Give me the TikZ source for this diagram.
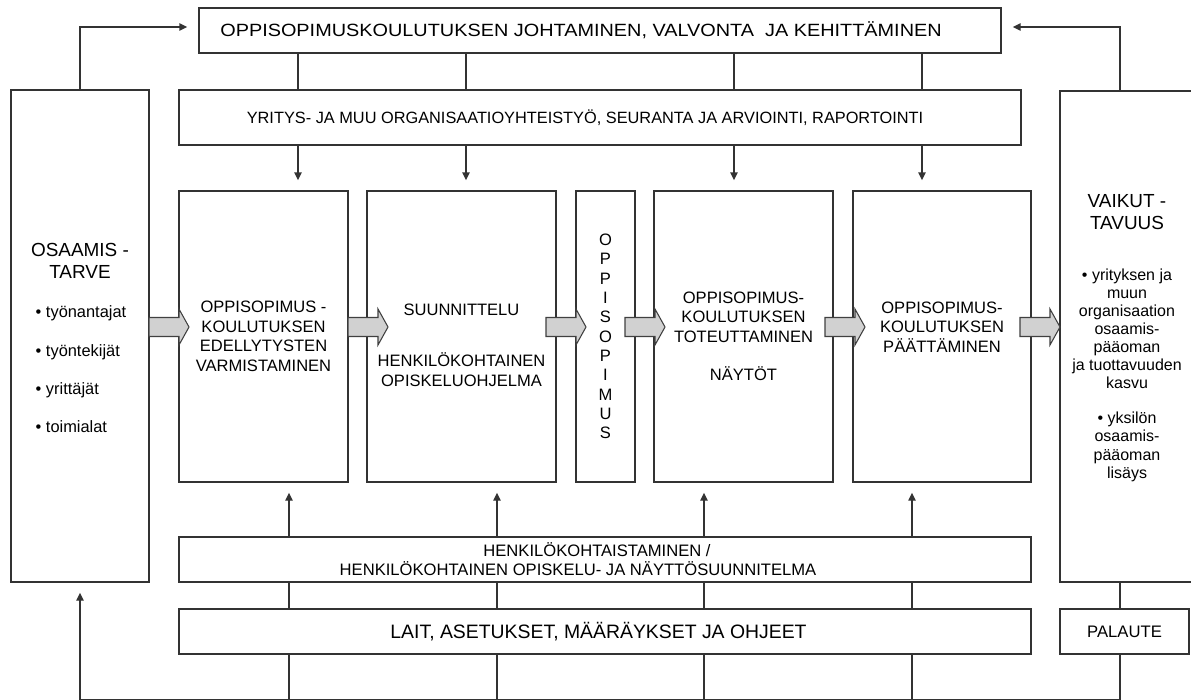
\documentclass[tikz,border=0pt]{standalone}
\usepackage{fontspec}
\setmainfont{Liberation Sans}
\newfontfamily\levea[FakeStretch=1.12]{Liberation Sans}
\usetikzlibrary{arrows.meta}

\tikzset{
  laatikko/.style={draw=black!80, line width=1.1pt, inner sep=0pt, align=center},
  koko/.style 2 args={minimum width=#1*0.75pt, minimum height=#2*0.75pt},
  viiva/.style={black!80, line width=1.1pt},
  nuoli/.style={viiva, -{Triangle[length=6pt,width=5.5pt]}, shorten >=7.5pt},
  lohko/.style={fill=black!18, draw=black!75, line width=0.8pt},
  vaiheteksti/.style={font=\fontsize{12.4}{14.6}\selectfont},
  otsikko/.style={align=center, font=\fontsize{14.2}{16.5}\selectfont},
}
% harmaa lohkonuoli, alkaa pisteesta #1
\newcommand{\lohkonuoli}[1]{\draw[lohko] #1 ++(0,-9.5) -- ++(30,0) -- ++(0,-8.5) -- ++(10,18) -- ++(-10,18) -- ++(0,-8.5) -- ++(-30,0) -- cycle;}

\begin{document}
\begin{tikzpicture}[x=0.75pt,y=-0.75pt]
\useasboundingbox (0,0) rectangle (1191,699);

% ylimmat laatikot
\node[laatikko, koko={802}{45}, font=\levea\fontsize{13.3}{15.5}\selectfont] (johto) at (600,30.5)
  {OPPISOPIMUSKOULUTUKSEN JOHTAMINEN, VALVONTA\ \ JA KEHITTÄMINEN\kern28.5pt};
\node[laatikko, koko={842}{55}, font=\fontsize{12.25}{14.6}\selectfont] (yhteis) at (600,117.5)
  {YRITYS- JA MUU ORGANISAATIOYHTEISTYÖ, SEURANTA JA ARVIOINTI, RAPORTOINTI\kern22.5pt};

% sivulaatikot
\node[laatikko, koko={138}{492}] (osaamis) at (80,336) {};
\node[laatikko, koko={134}{491}] (vaikut) at (1127,336.5) {};
\node[otsikko] (osaamisotsikko) at (80,261) {OSAAMIS -\\TARVE};
\node[anchor=west, align=left, font=\fontsize{12.3}{28.7}\selectfont] (osaamislista) at (31,369.5)
  {• työnantajat\\• työntekijät\\• yrittäjät\\• toimialat};
\node[otsikko] (vaikutotsikko) at (1127,212) {VAIKUT -\\TAVUUS};
\node[align=center, font=\fontsize{12}{13.6}\selectfont] (vaikutlista) at (1127,375)
  {• yrityksen ja\\muun\\organisaation\\osaamis-\\pääoman\\ja tuottavuuden\\kasvu\\[12.5pt]• yksilön\\osaamis-\\pääoman\\lisäys};

% vaiheet
\node[laatikko, koko={169}{291}, vaiheteksti] (vaihe1) at (263.5,336.5)
  {OPPISOPIMUS -\\KOULUTUKSEN\\EDELLYTYSTEN\\VARMISTAMINEN};
\node[laatikko, koko={189}{291}, vaiheteksti] (vaihe2) at (461.5,336.5)
  {\rule{0pt}{21.7pt}SUUNNITTELU\\[23.6pt]HENKILÖKOHTAINEN\\OPISKELUOHJELMA};
\node[laatikko, koko={59}{291}, font=\fontsize{12.4}{14.5}\selectfont] (sopimus) at (605.5,336.5)
  {O\\P\\P\\I\\S\\O\\P\\I\\M\\U\\S};
\node[laatikko, koko={179}{291}, vaiheteksti] (vaihe4) at (743.5,336.5)
  {OPPISOPIMUS-\\KOULUTUKSEN\\TOTEUTTAMINEN\\[14.25pt]NÄYTÖT};
\node[laatikko, koko={178}{291}, vaiheteksti] (vaihe5) at (942,336.5)
  {OPPISOPIMUS-\\KOULUTUKSEN\\PÄÄTTÄMINEN\\\mbox{}};

% alalaatikot
\node[laatikko, koko={852}{45}, font=\fontsize{12.45}{14.3}\selectfont] (henk) at (605,559.5)
  {HENKILÖKOHTAISTAMINEN /\kern12pt\\HENKILÖKOHTAINEN OPISKELU- JA NÄYTTÖSUUNNITELMA\kern40.5pt};
\node[laatikko, koko={852}{45}, font=\fontsize{14.55}{17}\selectfont] (laki) at (605,631.5)
  {LAIT, ASETUKSET, MÄÄRÄYKSET JA OHJEET\kern9.75pt};
\node[laatikko, koko={129}{45}, font=\fontsize{12.5}{14}\selectfont] (palaute) at (1124.5,631.5) {PALAUTE};

\coordinate (vasyla) at (80,27);
\coordinate (oikyla) at (1120,27);
\coordinate (alaraja) at (0,699.6);

% paluunuolet
\draw[nuoli, shorten >=8.25pt] (osaamis.north -| vasyla) -- (vasyla) -- (johto.west |- vasyla);
\draw[nuoli, shorten >=8.25pt] (vaikut.north -| oikyla) -- (oikyla) -- (johto.east |- oikyla);
\draw[nuoli] (alaraja -| vasyla) -- (osaamis.south -| vasyla);
\draw[viiva] (vaikut.south -| oikyla) -- (palaute.north -| oikyla);
\draw[viiva] (palaute.south -| oikyla) -- (alaraja -| oikyla);
\draw[viiva] (alaraja -| vasyla) -- (alaraja -| oikyla);

% ylhaalta vaiheisiin
\foreach \x/\v in {298/vaihe1, 466/vaihe2, 734/vaihe4, 922/vaihe5} {
  \coordinate (sarake) at (\x,0);
  \draw[viiva] (johto.south -| sarake) -- (yhteis.north -| sarake);
  \draw[nuoli] (yhteis.south -| sarake) -- (\v.north -| sarake);
}
% alhaalta vaiheisiin
\foreach \x/\v in {289/vaihe1, 497/vaihe2, 704/vaihe4, 912/vaihe5} {
  \coordinate (sarake) at (\x,0);
  \draw[nuoli] (henk.north -| sarake) -- (\v.south -| sarake);
  \draw[viiva] (laki.north -| sarake) -- (henk.south -| sarake);
  \draw[viiva] (laki.south -| sarake) -- (alaraja -| sarake);
}

% lohkonuolet
\foreach \x in {149,348,546,625,825,1020} {
  \lohkonuoli{(\x,327)}
}
\end{tikzpicture}
\end{document}
